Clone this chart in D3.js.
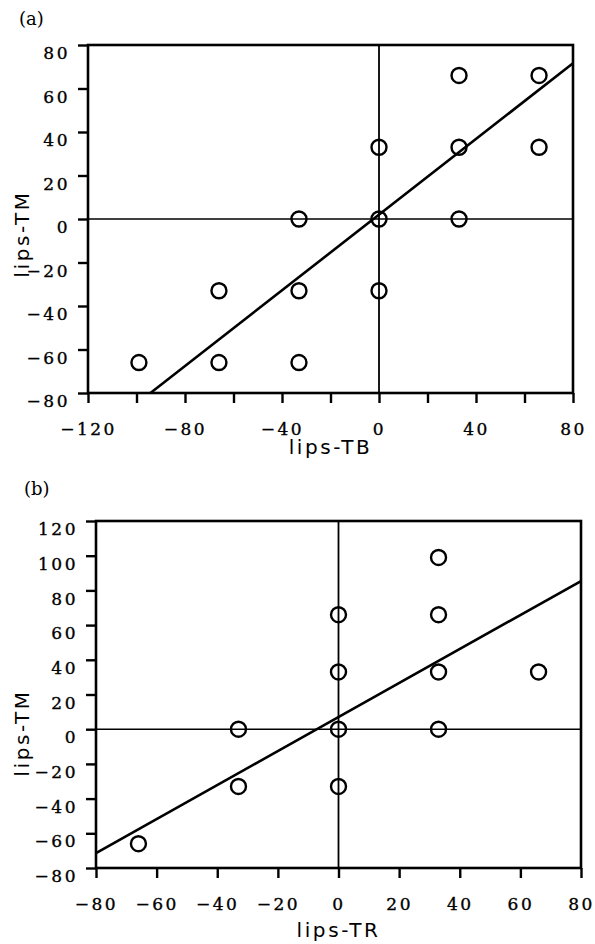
<!DOCTYPE html>
<html>
<head>
<meta charset="utf-8">
<script src="https://cdn.jsdelivr.net/npm/d3@7"></script>
<style>
  body { margin: 0; background: #fff; }
  .tick text { font-family: "DejaVu Serif", serif; font-size: 17px; letter-spacing: 2.5px; fill: #000; stroke: #000; stroke-width: 0.35px; }
  .title { font-family: "DejaVu Sans", sans-serif; font-size: 20px; letter-spacing: 2.6px; fill: #000; }
  .panel { font-family: "DejaVu Serif", serif; font-size: 18px; fill: #000; }
</style>
</head>
<body>
<svg id="chart" width="595" height="944"></svg>
<script>
// panel (a): lips-TB vs lips-TM
const tbX = [-99, -66, -66, -33, -33, -33, 0, 0, 0, 33, 33, 33, 66, 66];
const tbY = [-66, -33, -66, 0, -33, -66, 33, 0, -33, 66, 33, 0, 66, 33];
const fitA = { slope: 0.87, intercept: 2 };
const ticksAX = [-120, -100, -80, -60, -40, -20, 0, 20, 40, 60, 80];
const labelsAX = [-120, -80, -40, 0, 40, 80];
const ticksAY = [-80, -60, -40, -20, 0, 20, 40, 60, 80];

// panel (b): lips-TR vs lips-TM
const trX = [33, 33, 0, 0, 33, 66, 33, 0, -33, -33, 0, -66];
const trY = [99, 66, 66, 33, 33, 33, 0, 0, 0, -33, -33, -66];
const fitB = { slope: 0.98, intercept: 7 };
const ticksBX = [-80, -60, -40, -20, 0, 20, 40, 60, 80];
const ticksBY = [-80, -60, -40, -20, 0, 20, 40, 60, 80, 100, 120];

const svg = d3.select('#chart');

function drawPanel(opt) {
  let x = d3.scaleLinear().domain(opt.xDomain).range(opt.xRange);
  let y = d3.scaleLinear().domain(opt.yDomain).range(opt.yRange);
  let g = svg.append('g');

  // zero lines
  g.append('line')
    .attr('x1', x.range()[0]).attr('x2', x.range()[1])
    .attr('y1', y(0)).attr('y2', y(0))
    .attr('stroke', '#000').attr('stroke-width', 1.6);
  g.append('line')
    .attr('x1', x(0)).attr('x2', x(0))
    .attr('y1', y.range()[0]).attr('y2', y.range()[1])
    .attr('stroke', '#000').attr('stroke-width', 1.8);

  // regression line, clipped to the box
  let m = opt.fit.slope, b = opt.fit.intercept;
  let x0 = Math.max(opt.xDomain[0], (opt.yDomain[0] - b) / m);
  let x1 = Math.min(opt.xDomain[1], (opt.yDomain[1] - b) / m);
  g.append('line')
    .attr('x1', x(x0)).attr('y1', y(m * x0 + b))
    .attr('x2', x(x1)).attr('y2', y(m * x1 + b))
    .attr('stroke', '#000').attr('stroke-width', 2.6);

  // frame
  g.append('rect')
    .attr('x', x.range()[0]).attr('y', y.range()[1])
    .attr('width', x.range()[1] - x.range()[0])
    .attr('height', y.range()[0] - y.range()[1])
    .attr('fill', 'none').attr('stroke', '#000').attr('stroke-width', 2.6);

  // axes
  let xAxis = g.append('g')
    .attr('transform', 'translate(0,' + y.range()[0] + ')')
    .call(d3.axisBottom(x).tickValues(opt.xTicks).tickSize(10).tickPadding(20)
      .tickFormat(d => opt.xLabels.includes(d) ? d3.format('d')(d) : ''));
  let yAxis = g.append('g')
    .attr('transform', 'translate(' + x.range()[0] + ',0)')
    .call(d3.axisLeft(y).tickValues(opt.yTicks).tickSize(10).tickPadding(8));
  [xAxis, yAxis].forEach(a => {
    a.select('.domain').remove();
    a.selectAll('.tick line').attr('stroke', '#000').attr('stroke-width', 2.4);
    a.attr('font-family', null).attr('font-size', null);
  });
  yAxis.selectAll('.tick text').attr('dy', '0.8em');

  // points
  g.selectAll('circle.pt')
    .data(opt.xs.map((d, i) => [d, opt.ys[i]]))
    .enter()
    .append('circle')
    .attr('class', 'pt')
    .attr('cx', d => x(d[0]))
    .attr('cy', d => y(d[1]))
    .attr('r', 7.5)
    .attr('fill', 'none')
    .attr('stroke', '#000')
    .attr('stroke-width', 2.4);

  // titles
  g.append('text')
    .attr('class', 'title')
    .attr('x', (x.range()[0] + x.range()[1]) / 2)
    .attr('y', opt.xTitleY)
    .attr('text-anchor', 'middle')
    .text(opt.xTitle);
  g.append('text')
    .attr('class', 'title')
    .attr('transform', 'translate(29,' + opt.yTitleY + ') rotate(-90)')
    .attr('text-anchor', 'middle')
    .text(opt.yTitle);
  g.append('text')
    .attr('class', 'panel')
    .attr('x', opt.tag[0]).attr('y', opt.tag[1])
    .text(opt.tag[2]);
}

drawPanel({
  xDomain: [-120, 80], xRange: [88, 573],
  yDomain: [-80, 80], yRange: [393, 45],
  xTicks: ticksAX, xLabels: labelsAX, yTicks: ticksAY,
  xs: tbX, ys: tbY, fit: fitA,
  xTitle: 'lips-TB', xTitleY: 454,
  yTitle: 'lips-TM', yTitleY: 234,
  tag: [19, 25, '(a)']
});

drawPanel({
  xDomain: [-80, 80], xRange: [96, 581],
  yDomain: [-80, 120], yRange: [868, 521],
  xTicks: ticksBX, xLabels: ticksBX, yTicks: ticksBY,
  xs: trX, ys: trY, fit: fitB,
  xTitle: 'lips-TR', xTitleY: 937,
  yTitle: 'lips-TM', yTitleY: 733,
  tag: [24, 495, '(b)']
});
</script>
</body>
</html>
